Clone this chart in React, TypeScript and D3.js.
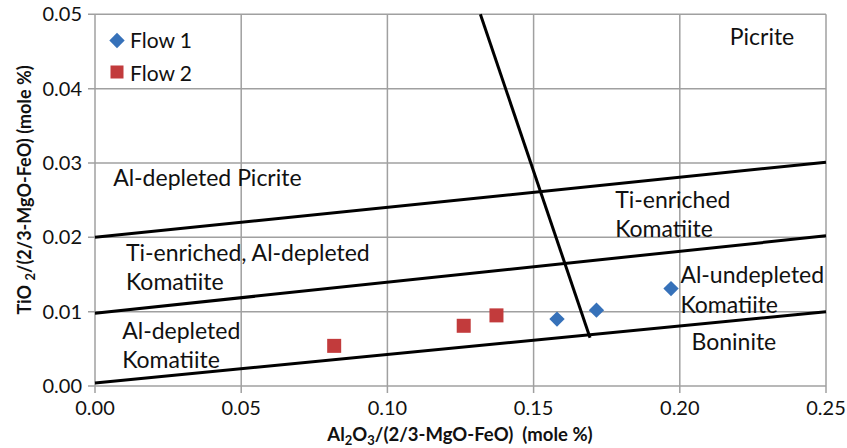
import React from "react";
import * as d3 from "d3";

const xTicks = [0, 0.05, 0.1, 0.15, 0.2, 0.25];
const yTicks = [0, 0.01, 0.02, 0.03, 0.04, 0.05];

const flow1X = [0.158, 0.1715, 0.197];
const flow1Y = [0.009, 0.0102, 0.0131];
const flow2X = [0.0818, 0.1261, 0.1373];
const flow2Y = [0.0054, 0.0081, 0.0095];

// boundary lines: [x1, y1, x2, y2]
const boundaryLow = [0, 0.0004, 0.25, 0.01];
const boundaryMid = [0, 0.0098, 0.25, 0.0202];
const boundaryHigh = [0, 0.02, 0.25, 0.0301];
const boundarySteep = [0.1318, 0.05, 0.1693, 0.0065];

// region labels: [text, x, y] in data units (x = left start, y = baseline)
const regionLabels: [string, number, number][] = [
  ["Picrite", 0.2171, 0.0459],
  ["Al-depleted Picrite", 0.0062, 0.0269],
  ["Ti-enriched, Al-depleted", 0.0106, 0.0168],
  ["Komatiite", 0.0106, 0.0129],
  ["Al-depleted", 0.0093, 0.0063],
  ["Komatiite", 0.0093, 0.0024],
  ["Ti-enriched", 0.1779, 0.0240],
  ["Komatiite", 0.1779, 0.0200],
  ["Al-undepleted", 0.2002, 0.0138],
  ["Komatiite", 0.2002, 0.0098],
  ["Boninite", 0.2040, 0.0048],
];

const W = 847;
const H = 448;
const FONT = "Lato, 'Open Sans', sans-serif";

export default function App() {
  const x = d3.scaleLinear().domain([0, 0.25]).range([95, 826]);
  const y = d3.scaleLinear().domain([0, 0.05]).range([386, 14.3]);
  const grid = "#a0a0a0";
  const blue = "#3671b9";
  const red = "#c23b3c";
  const lines = [boundaryLow, boundaryMid, boundaryHigh, boundarySteep];
  const diamond = d3.symbol().type(d3.symbolDiamond2).size(150)();
  const f1 = flow1X.map((v, i) => [v, flow1Y[i]]);
  const f2 = flow2X.map((v, i) => [v, flow2Y[i]]);

  return (
    <svg
      width={W}
      height={H}
      style={{ position: "absolute", left: 0, top: 0, background: "#fff" }}
      fontFamily={FONT}
    >
      <rect x={0} y={0} width={W} height={H} fill="#fff" />
      {/* grid */}
      {xTicks.map((t) => (
        <line key={"gx" + t} x1={x(t)} x2={x(t)} y1={y(0.05)} y2={y(0) + 7} stroke={grid} strokeWidth={1.5} />
      ))}
      {yTicks.map((t) => (
        <line key={"gy" + t} x1={x(0) - 7} x2={x(0.25)} y1={y(t)} y2={y(t)} stroke={grid} strokeWidth={1.5} />
      ))}
      {/* tick labels */}
      {xTicks.map((t) => (
        <text key={"tx" + t} x={x(t)} y={415} textAnchor="middle" fontSize={20} fill="#111">
          {d3.format(".2f")(t)}
        </text>
      ))}
      {yTicks.map((t) => (
        <text key={"ty" + t} x={82} y={y(t) + 7} textAnchor="end" fontSize={20} fill="#111">
          {d3.format(".2f")(t)}
        </text>
      ))}
      {/* boundary lines */}
      {lines.map((l, i) => (
        <line key={"b" + i} x1={x(l[0])} y1={y(l[1])} x2={x(l[2])} y2={y(l[3])} stroke="#000" strokeWidth={3} />
      ))}
      {/* region labels */}
      {regionLabels.map(([s, lx, ly], i) => (
        <text key={"r" + i} x={x(lx)} y={y(ly)} fontSize={23} fill="#111">
          {s}
        </text>
      ))}
      {/* data */}
      {f2.map((p, i) => (
        <rect key={"f2" + i} x={x(p[0]) - 7} y={y(p[1]) - 7} width={14} height={14} fill={red} />
      ))}
      {f1.map((p, i) => (
        <path key={"f1" + i} d={diamond} transform={`translate(${x(p[0])},${y(p[1])})`} fill={blue} />
      ))}
      {/* legend */}
      <path d={diamond} transform="translate(117,40.5)" fill={blue} />
      <text x={130} y={48} fontSize={21} fill="#111">Flow 1</text>
      <rect x={110.5} y={65.5} width={13} height={13} fill={red} />
      <text x={130} y={81} fontSize={21} fill="#111">Flow 2</text>
      {/* axis titles */}
      <text x={460} y={441} textAnchor="middle" fontSize={18.5} fontWeight="bold" fill="#111" style={{ whiteSpace: "pre" }}>
        Al<tspan fontSize={13} dy={4}>2</tspan><tspan dy={-4}>O</tspan><tspan fontSize={13} dy={4}>3</tspan>
        <tspan dy={-4}>/(2/3-MgO-FeO)  (mole %)</tspan>
      </text>
      <text
        transform="translate(31,190) rotate(-90)"
        textAnchor="middle"
        fontSize={18}
        fontWeight="bold"
        fill="#111"
        style={{ whiteSpace: "pre" }}
      >
        TiO <tspan fontSize={13} dy={4}>2</tspan><tspan dy={-4}>/(2/3-MgO-FeO) (mole %)</tspan>
      </text>
    </svg>
  );
}
